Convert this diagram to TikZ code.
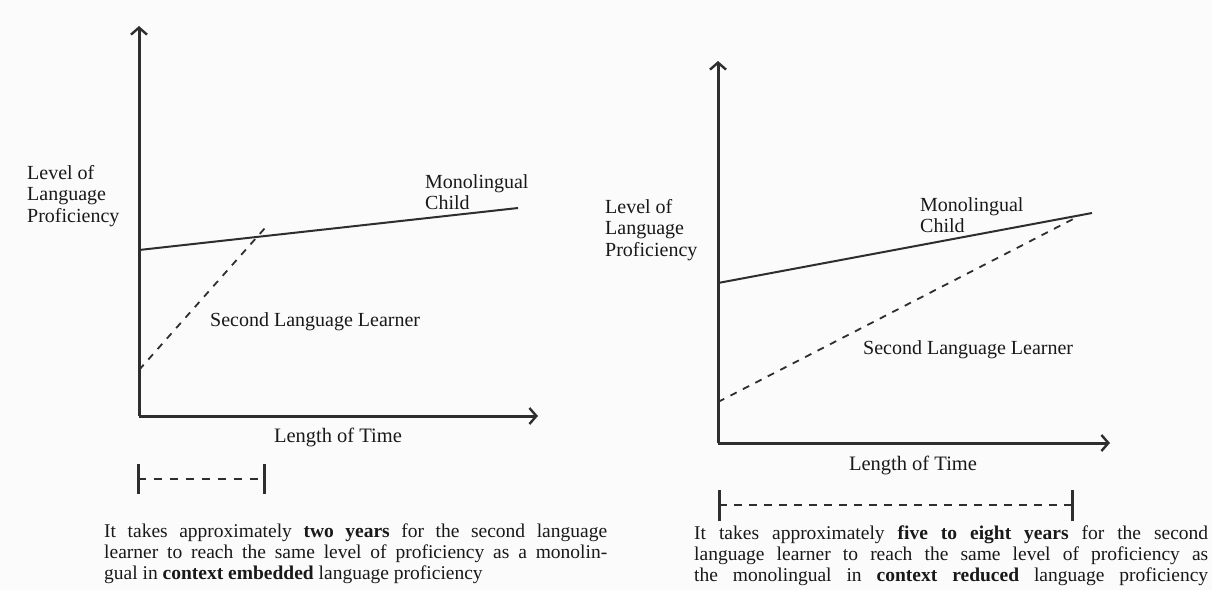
\documentclass[tikz,border=0pt]{standalone}
\usepackage{fontspec}
\setmainfont{Liberation Serif}
\usetikzlibrary{arrows.meta}
\definecolor{ink}{gray}{0.18}
\definecolor{paper}{gray}{0.985}

\begin{document}
\begin{tikzpicture}[x=1pt,y=-1pt,
  axis/.style={line width=3pt, draw=ink, line cap=butt,
    -{Straight Barb[length=7pt,width=16pt,line width=2.4pt]}},
  mono/.style={line width=2pt, draw=ink},
  learner/.style={line width=1.8pt, draw=ink, dash pattern=on 7pt off 7pt},
  span/.style={line width=1.7pt, draw=ink, dash pattern=on 8pt off 8pt},
  tick/.style={line width=3pt, draw=ink},
  lbl/.style={inner sep=0pt, text=black!90, align=left,
    font=\fontsize{20}{21.5}\selectfont},
  captext/.style={inner sep=0pt, text=black!90, align=left,
    font=\fontsize{19.5}{20.6}\selectfont}]

  % page
  \fill[paper] (0,0) rectangle (1212,590);
  \useasboundingbox (0,0) rectangle (1212,590);

  % ---------- context embedded ----------
  \coordinate (A0) at (139,416);
  \coordinate (Ay) at (139,26);
  \coordinate (Ax) at (538,416);
  \coordinate (Am0) at (139,250);
  \coordinate (Am1) at (518,208);
  \coordinate (Ameet) at (265,228);
  \coordinate (As0) at (139,370);

  \draw[axis] (A0) -- (Ay);
  \draw[axis] (A0) -- (Ax);
  \draw[mono] (Am0) -- (Am1);
  \draw[learner] (As0) -- (Ameet);

  \node[lbl, anchor=west] (Ay-label) at (27,196) {Level of\\Language\\Proficiency};
  \node[lbl, anchor=west] (Am-label) at (425,192) {Monolingual\\Child};
  \node[lbl, anchor=west] (As-label) at (210,322) {Second Language Learner};
  \node[lbl, font=\fontsize{20.5}{22}\selectfont] (Ax-label) at (338,437) {Length of Time};

  \coordinate (Ab0) at (138,479);
  \coordinate (Ab1) at (264,479);
  \draw[tick] ([yshift=-15pt]Ab0) -- ([yshift=15pt]Ab0);
  \draw[tick] ([yshift=-15pt]Ab1) -- ([yshift=15pt]Ab1);
  \draw[span] (Ab0) -- (Ab1);

  \node[captext, anchor=north west] (A-caption) at (104,524)
    {\makebox[503pt][s]{It takes approximately \textbf{two years} for the second language}\\
     \makebox[503pt][s]{learner to reach the same level of proficiency as a monolin-}\\
     gual in \textbf{context embedded} language proficiency};

  % ---------- context reduced ----------
  \coordinate (B0) at (718,443);
  \coordinate (By) at (718,61);
  \coordinate (Bx) at (1110,443);
  \coordinate (Bm0) at (718,283);
  \coordinate (Bm1) at (1092,213);
  \coordinate (Bs0) at (718,402);
  \coordinate (Bs1) at (1079,216);

  \draw[axis] (B0) -- (By);
  \draw[axis] (B0) -- (Bx);
  \draw[mono] (Bm0) -- (Bm1);
  \draw[learner] (Bs0) -- (Bs1);

  \node[lbl, anchor=west] (By-label) at (605,230) {Level of\\Language\\Proficiency};
  \node[lbl, anchor=west] (Bm-label) at (920,215) {Monolingual\\Child};
  \node[lbl, anchor=west] (Bs-label) at (863,350) {Second Language Learner};
  \node[lbl, font=\fontsize{20.5}{22}\selectfont] (Bx-label) at (913,465) {Length of Time};

  \coordinate (Bb0) at (719,505);
  \coordinate (Bb1) at (1072,505);
  \draw[tick] ([yshift=-16pt]Bb0) -- ([yshift=15pt]Bb0);
  \draw[tick] ([yshift=-16pt]Bb1) -- ([yshift=15pt]Bb1);
  \draw[span, dash pattern=on 8pt off 7pt] (Bb0) -- (Bb1);

  \node[captext, anchor=north west] (B-caption) at (694,526)
    {\makebox[514pt][s]{It takes approximately \textbf{five to eight years} for the second}\\
     \makebox[514pt][s]{language learner to reach the same level of proficiency as}\\
     \makebox[514pt][s]{the monolingual in \textbf{context reduced} language proficiency}};
\end{tikzpicture}
\end{document}
